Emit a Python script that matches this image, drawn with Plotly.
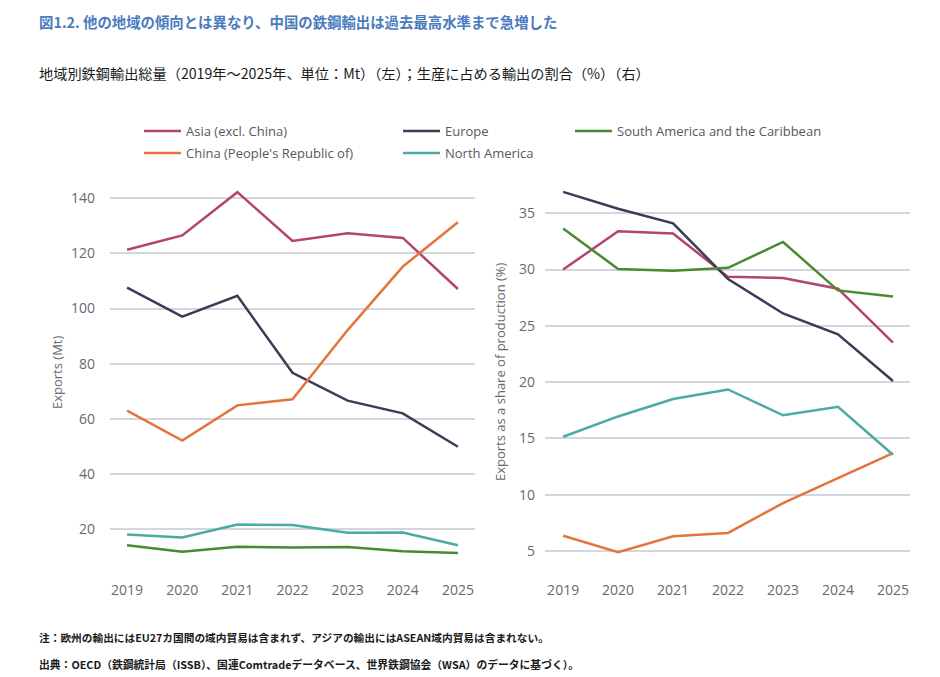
import plotly.graph_objects as go

W, H = 940, 677
OFF = 8  # page body margin
FW, FH = W - OFF, H - OFF

years = [2019, 2020, 2021, 2022, 2023, 2024, 2025]

# Left panel: exports (Mt)
asia_mt = [121.3, 126.5, 142.2, 124.5, 127.3, 125.6, 107.1]
europe_mt = [107.6, 97.1, 104.6, 76.7, 66.6, 62.0, 49.9]
china_mt = [63.0, 52.1, 64.9, 67.1, 92.2, 115.2, 131.3]
namerica_mt = [18.1, 17.0, 21.7, 21.5, 18.7, 18.8, 14.2]
samerica_mt = [14.2, 11.8, 13.6, 13.4, 13.5, 12.0, 11.4]

# Right panel: exports as share of production (%)
asia_pct = [30.0, 33.4, 33.2, 29.35, 29.25, 28.3, 23.5]
europe_pct = [36.9, 35.4, 34.1, 29.15, 26.1, 24.25, 20.1]
china_pct = [6.35, 4.9, 6.3, 6.6, 9.25, 11.45, 13.7]
namerica_pct = [15.15, 16.95, 18.5, 19.35, 17.05, 17.8, 13.55]
samerica_pct = [33.65, 30.05, 29.9, 30.15, 32.45, 28.15, 27.6]

series_names = ["Asia (excl. China)", "Europe", "South America and the Caribbean",
                "China (People's Republic of)", "North America"]
colors = ["#b4446f", "#3c3c56", "#4a8a2e", "#e5733c", "#4aaba2"]
left_vals = [asia_mt, europe_mt, samerica_mt, china_mt, namerica_mt]
right_vals = [asia_pct, europe_pct, samerica_pct, china_pct, namerica_pct]
legend_ids = ["legend", "legend3", "legend5", "legend2", "legend4"]

left_ticks = [20, 40, 60, 80, 100, 120, 140]
right_ticks = [5, 10, 15, 20, 25, 30, 35]

title = "図1.2. 他の地域の傾向とは異なり、中国の鉄鋼輸出は過去最高水準まで急増した"
subtitle = "地域別鉄鋼輸出総量（2019年～2025年、単位：Mt）（左）；生産に占める輸出の割合（%）（右）"
note1 = "注：欧州の輸出にはEU27カ国間の域内貿易は含まれず、アジアの輸出にはASEAN域内貿易は含まれない。"
note2 = "出典：OECD（鉄鋼統計局（ISSB）、国連Comtradeデータベース、世界鉄鋼協会（WSA）のデータに基づく）。"

JP = "Noto Sans CJK JP"
LAT = "Open Sans"

fig = go.Figure()
for name, col, lv, rv, lg in zip(series_names, colors, left_vals, right_vals, legend_ids):
    fig.add_trace(go.Scatter(x=years, y=lv, mode="lines", name=name,
                             line=dict(color=col, width=2.5),
                             xaxis="x", yaxis="y", legend=lg, showlegend=True))
    fig.add_trace(go.Scatter(x=years, y=rv, mode="lines", name=name,
                             line=dict(color=col, width=2.5),
                             xaxis="x2", yaxis="y2", showlegend=False))

def px_x(p):
    return (p - OFF) / FW

def px_y(p):
    return 1 - (p - OFF) / FH

ydom = [px_y(570), px_y(185)]
tickfont = dict(family=LAT, size=14, color="#666a70")

fig.update_layout(
    width=FW, height=FH,
    margin=dict(l=0, r=0, t=0, b=0),
    paper_bgcolor="white", plot_bgcolor="white",
    xaxis=dict(domain=[px_x(110), px_x(475)], range=[2018.69, 2025.31],
               tickvals=years, showgrid=False, zeroline=False, showline=False,
               tickfont=tickfont, ticklabelstandoff=10),
    yaxis=dict(domain=ydom, range=[5.2, 144.8], tickvals=left_ticks,
               showgrid=True, gridcolor="#d3d6dc", gridwidth=1.5,
               zeroline=False, showline=False, tickfont=tickfont,
               ticklabelstandoff=14),
    xaxis2=dict(domain=[px_x(545), px_x(910)], range=[2018.67, 2025.31],
                tickvals=years, showgrid=False, zeroline=False, showline=False,
                tickfont=tickfont, ticklabelstandoff=10, anchor="y2"),
    yaxis2=dict(domain=ydom, range=[3.31, 37.51], tickvals=right_ticks,
                showgrid=True, gridcolor="#d3d6dc", gridwidth=1.5,
                zeroline=False, showline=False, tickfont=tickfont,
                ticklabelstandoff=9, anchor="x2"),
    showlegend=True,
)

legfont = dict(family=LAT, size=13, color="#55585e")
leg_pos = {"legend": (145, 131), "legend2": (145, 153), "legend3": (404, 131),
           "legend4": (404, 153), "legend5": (576, 131)}
for lg, (lx, ly) in leg_pos.items():
    fig.update_layout({lg: dict(x=px_x(lx - 6), y=px_y(ly), xanchor="left", yanchor="middle",
                                font=legfont, bgcolor="rgba(0,0,0,0)", borderwidth=0,
                                itemwidth=37)})

annos = [
    dict(text="<b>" + title + "</b>", x=px_x(37), y=px_y(22), xanchor="left", yanchor="middle",
         font=dict(family=JP, size=14.4, color="#4a7bbd")),
    dict(text=subtitle, x=px_x(37), y=px_y(73), xanchor="left", yanchor="middle",
         font=dict(family=JP, size=14.2, color="#1a1a1a")),
    dict(text="<b>" + note1 + "</b>", x=px_x(37), y=px_y(637), xanchor="left", yanchor="middle",
         font=dict(family=JP, size=10.7, color="#1a1a1a")),
    dict(text="<b>" + note2 + "</b>", x=px_x(37), y=px_y(664), xanchor="left", yanchor="middle",
         font=dict(family=JP, size=10.8, color="#1a1a1a")),
    dict(text="Exports (Mt)", x=px_x(57), y=px_y(373), textangle=-90,
         xanchor="center", yanchor="middle", font=dict(family=LAT, size=13, color="#666a70")),
    dict(text="Exports as a share of production (%)", x=px_x(500), y=px_y(372), textangle=-90,
         xanchor="center", yanchor="middle", font=dict(family=LAT, size=13, color="#666a70")),
]
for a in annos:
    a.update(xref="paper", yref="paper", showarrow=False)
fig.update_layout(annotations=annos)

fig.write_html("out.html")
